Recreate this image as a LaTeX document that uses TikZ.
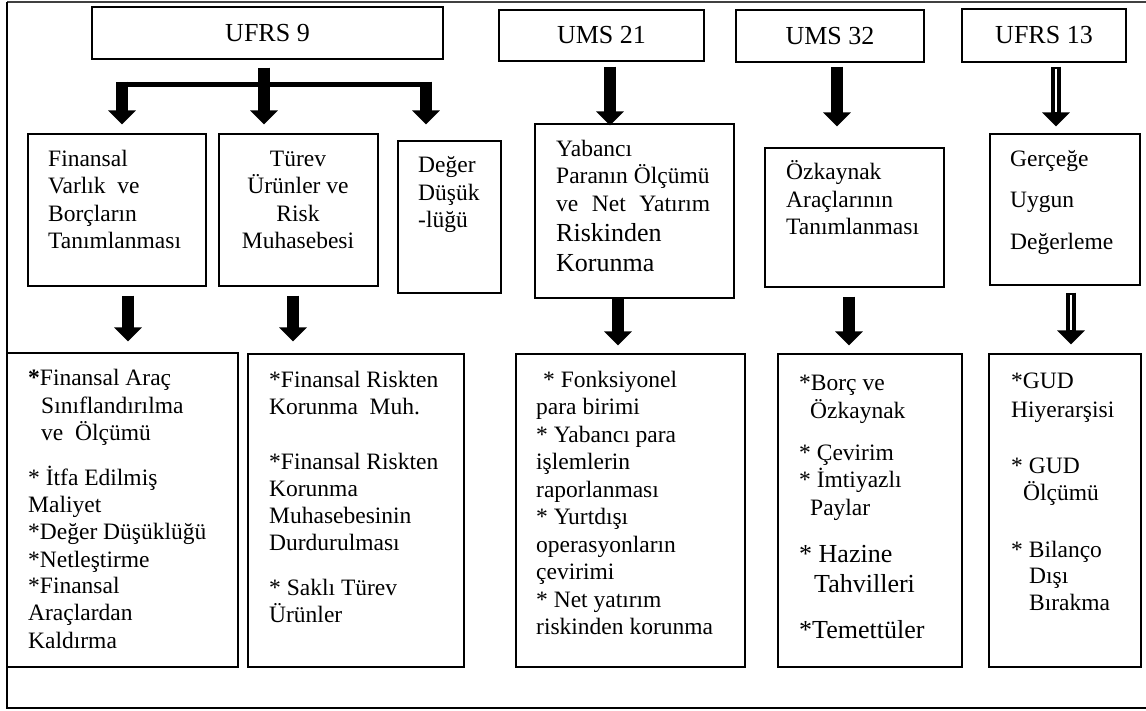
\documentclass[tikz,border=0pt]{standalone}
\usepackage{fontspec}
\setmainfont{Liberation Serif}
\usetikzlibrary{arrows.meta,calc}
\tikzset{
  box/.style 2 args={draw, line width=1.2pt, inner sep=0pt, minimum width=#1, minimum height=#2},
  tfont/.style={font=\fontsize{26}{30}\selectfont},
  lt/.style={font=\fontsize{23.5}{27}\selectfont, inner sep=0pt, anchor=base west},
  lb/.style={font=\fontsize{26}{30}\selectfont, inner sep=0pt, anchor=base west},
  ltc/.style={font=\fontsize{23.5}{27}\selectfont, inner sep=0pt, anchor=base},
  bigarr/.style={line width=12.5pt, -{Triangle[width=27pt,length=14pt]}},
  dblarr/.style={line width=10pt, -{Triangle[width=27pt,length=14pt]}},
  hollow/.style={white, line width=2.2pt},
}
\newcommand\txl[4]{\node[lt] (#1) at (#2,#3) {#4};}
\newcommand\txb[4]{\node[lb] (#1) at (#2,#3) {#4};}
\begin{document}
\begin{tikzpicture}[x=1pt,y=-1pt]
\useasboundingbox (0,0) rectangle (1146,711);
% outer frame
\draw[line width=2pt, black!75] (1146,2) -- (7,2);
\draw[line width=1.3pt] (7,2) -- (7,708) -- (1146,708);

% top boxes
\node[box={351pt}{52pt}, tfont] (ufrs9) at (267.5,33) {UFRS 9};
\node[box={205pt}{51pt}, tfont] (ums21) at (601.5,35.5) {UMS 21};
\node[box={188pt}{52pt}, tfont] (ums32) at (830,36) {UMS 32};
\node[box={164pt}{53pt}, tfont] (ufrs13) at (1044,35.5) {UFRS 13};

% second row boxes
\node[box={178pt}{152pt}] (fin) at (117,210) {};
\node[box={159pt}{152pt}] (tur) at (298.5,210) {};
\node[box={103pt}{152pt}] (deg) at (449.5,217) {};
\node[box={199pt}{174pt}] (yab) at (634.5,211) {};
\node[box={179pt}{139pt}] (ozk) at (854.5,217.5) {};
\node[box={150pt}{151pt}] (ger) at (1065,209.5) {};

% third row boxes
\node[box={231pt}{314pt}] (bA) at (122.5,510) {};
\node[box={216pt}{313pt}] (bB) at (356,510.5) {};
\node[box={229pt}{313pt}] (bC) at (630.5,510.5) {};
\node[box={184pt}{313pt}] (bD) at (870,510.5) {};
\node[box={152pt}{313pt}] (bE) at (1065,510.5) {};

% second row texts
\txl{f1}{48}{167}{Finansal}
\txl{f2}{48}{194}{Varlık\ \ ve}
\txl{f3}{48}{222}{Borçların}
\txl{f4}{48}{249}{Tanımlanması}
\node[ltc] (t1) at (298,167) {Türev};
\node[ltc] (t2) at (298,194) {Ürünler ve};
\node[ltc] (t3) at (298,222) {Risk};
\node[ltc] (t4) at (298,249) {Muhasebesi};
\txl{d1}{418}{173}{Değer}
\txl{d2}{418}{201}{Düşük}
\txl{d3}{418}{228}{-lüğü}
\txl{y1}{556}{157}{Yabancı}
\txl{y2}{556}{184}{Paranın Ölçümü}
\txl{y3}{556}{212}{\makebox[154pt][s]{ve\hfill Net\hfill Yatırım}}
\txb{y4}{556}{242}{Riskinden}
\txb{y5}{556}{272}{Korunma}
\txl{o1}{786}{180}{Özkaynak}
\txl{o2}{786}{208}{Araçlarının}
\txl{o3}{786}{235}{Tanımlanması}
\txl{g1}{1010}{167}{Gerçeğe}
\txl{g2}{1010}{208}{Uygun}
\txl{g3}{1010}{250}{Değerleme}

% third row texts
\txl{a1}{28}{385}{\textbf{*}Finansal Araç}
\txl{a2}{41}{413}{Sınıflandırılma}
\txl{a3}{41}{440}{ve\ \ Ölçümü}
\txl{a4}{28}{485}{* İtfa Edilmiş}
\txl{a5}{28}{512}{Maliyet}
\txl{a6}{28}{539}{*Değer Düşüklüğü}
\txl{a7}{28}{567}{*Netleştirme}
\txl{a8}{28}{593}{*Finansal}
\txl{a9}{28}{620}{Araçlardan}
\txl{a10}{28}{648}{Kaldırma}

\txl{b1}{269}{387}{*Finansal Riskten}
\txl{b2}{269}{414}{Korunma\ \ Muh.}
\txl{b3}{269}{469}{*Finansal Riskten}
\txl{b4}{269}{496}{Korunma}
\txl{b5}{269}{523}{Muhasebesinin}
\txl{b6}{269}{550}{Durdurulması}
\txl{b7}{269}{595}{* Saklı Türev}
\txl{b8}{269}{622}{Ürünler}

\txl{c1}{543}{387}{* Fonksiyonel}
\txl{c2}{536}{414.5}{para birimi}
\txl{c3}{536}{442}{* Yabancı para}
\txl{c4}{536}{469.5}{işlemlerin}
\txl{c5}{536}{497}{raporlanması}
\txl{c6}{536}{524.5}{* Yurtdışı}
\txl{c7}{536}{552}{operasyonların}
\txl{c8}{536}{579.5}{çevirimi}
\txl{c9}{536}{607}{* Net yatırım}
\txl{c10}{536}{634.5}{riskinden korunma}

\txl{e1}{799}{390}{*Borç ve}
\txl{e2}{810}{418}{Özkaynak}
\txl{e3}{799}{460}{* Çevirim}
\txl{e4}{799}{487}{* İmtiyazlı}
\txl{e5}{810}{515}{Paylar}
\txb{e6}{799}{562}{* Hazine}
\txb{e7}{814}{592}{Tahvilleri}
\txb{e8}{799}{638}{*Temettüler}

\txl{h1}{1011}{388}{*GUD}
\txl{h2}{1011}{417}{Hiyerarşisi}
\txl{h3}{1011}{473}{* GUD}
\txl{h4}{1023}{500}{Ölçümü}
\txl{h5}{1011}{557}{* Bilanço}
\txl{h6}{1029}{583}{Dışı}
\txl{h7}{1029}{610}{Bırakma}

% UFRS 9 branching arrows
\coordinate (jL) at (122,84.5);
\coordinate (jR) at (426,84.5);
\draw[line width=5.5pt] (jL) -- (jR);
\draw[bigarr] ($(ufrs9.south)+(-3.5,8)$) -- ($(tur.north)+(-34.5,-9)$);
\draw[bigarr] ($(jL)+(0,-2.75)$) -- ($(fin.north)+(5,-9)$);
\draw[bigarr] ($(jR)+(0,-2.75)$) -- ($(deg.north)+(-23.5,-16)$);

% other top arrows
\draw[bigarr] ($(ums21.south)+(8.5,5)$) -- ($(yab.north)+(-24.5,2)$);
\draw[bigarr] ($(ums32.south)+(7,4)$) -- ($(ozk.north)+(-17.5,-21)$);
\draw[dblarr] ($(ufrs13.south)+(12,4)$) -- ($(ger.north)+(-9,-7)$);
\draw[hollow] ($(ufrs13.south)+(12,6)$) -- ($(ger.north)+(-9,-21)$);

% second to third row arrows
\draw[bigarr] ($(fin.south)+(11,9)$) -- ($(bA.north)+(5.5,-11)$);
\draw[bigarr] ($(tur.south)+(-5.5,9)$) -- ($(bB.north)+(-63,-12)$);
\draw[bigarr] ($(yab.south)+(-16.5,0)$) -- ($(bC.north)+(-12.5,-8)$);
\draw[bigarr] ($(ozk.south)+(-5.5,9)$) -- ($(bD.north)+(-21,-8)$);
\draw[dblarr] ($(ger.south)+(6,7)$) -- ($(bE.north)+(6,-9)$);
\draw[hollow] ($(ger.south)+(6,9)$) -- ($(bE.north)+(6,-23)$);
\end{tikzpicture}
\end{document}
